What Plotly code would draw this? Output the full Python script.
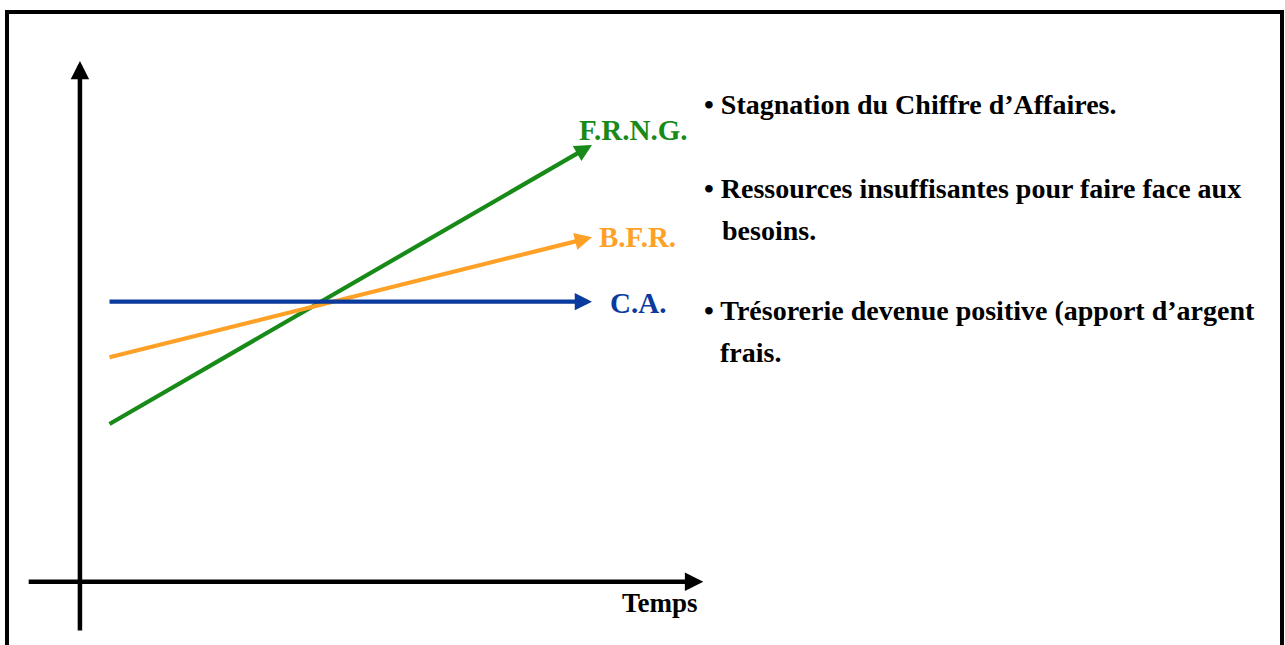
import plotly.graph_objects as go

# Temps (axe horizontal) : début et fin des trois courbes
temps = [0, 10]
# Niveaux des courbes au début et à la fin de la période
ca = [10.0, 10.0]
bfr = [8.0, 12.3]
frng = [5.6, 15.6]

series_names = ["F.R.N.G.", "B.F.R.", "C.A."]
series_values = [frng, bfr, ca]
series_colors = ["#178A17", "#FFA126", "#0B3A9E"]

# Texte explicatif à droite
bullets = [
    "• Stagnation du Chiffre d’Affaires.",
    "• Ressources insuffisantes pour faire face aux",
    "besoins.",
    "• Trésorerie devenue positive (apport d’argent",
    "frais.",
]

font = "Liberation Serif, Times New Roman, serif"

fig = go.Figure()
fig.add_trace(go.Scatter(x=[-2, 24], y=[0, 0], mode="lines",
                         line=dict(width=0), hoverinfo="skip", showlegend=False))


def arrow(x0, y0, x1, y1, color, width=4.2):
    fig.add_annotation(
        x=x1, y=y1, ax=x0, ay=y0, xref="x", yref="y", axref="x", ayref="y",
        text="", showarrow=True, arrowhead=2, arrowsize=0.82,
        arrowwidth=width, arrowcolor=color,
    )


# axes avec flèches
arrow(-0.58, -1.8, -0.58, 18.6, "black", 4.5)
arrow(-1.67, 0, 12.3, 0, "black", 4.5)

fig.add_annotation(x=11.4, y=-0.75, text="<b>Temps</b>", showarrow=False,
                   font=dict(family=font, size=27, color="black"))

# courbes
label_pos = [(10.85, 16.15), (10.93, 12.3), (10.95, 9.97)]
for name, vals, color, (lx, ly) in zip(series_names, series_values, series_colors, label_pos):
    arrow(temps[0], vals[0], temps[1], vals[1], color)
    fig.add_annotation(x=lx, y=ly, text=f"<b>{name}</b>", showarrow=False,
                       font=dict(family=font, size=29, color=color))

# texte à droite
bullet_pos = [(12.27, 17.06), (12.27, 14.06), (12.65, 12.56), (12.27, 9.67), (12.61, 8.2)]
for txt, (bx, by) in zip(bullets, bullet_pos):
    fig.add_annotation(x=bx, y=by, text=f"<b>{txt}</b>", showarrow=False,
                       xanchor="left", font=dict(family=font, size=28, color="black"))

# cadre
fig.add_shape(type="rect", xref="paper", yref="paper",
              x0=7 / 1285, x1=1282 / 1285, y0=-0.2, y1=1 - 12 / 645,
              line=dict(color="black", width=4))

fig.update_layout(
    width=1285, height=645,
    margin=dict(l=0, r=0, t=0, b=0),
    paper_bgcolor="white", plot_bgcolor="white",
    showlegend=False,
    xaxis=dict(range=[-108 / 48.4, 1177 / 48.4], visible=False, fixedrange=True),
    yaxis=dict(range=[-63.3 / 28, 581.7 / 28], visible=False, fixedrange=True),
)

fig.write_html("out.html", config={"displayModeBar": False},
               post_script="document.body.style.margin = '0';")
